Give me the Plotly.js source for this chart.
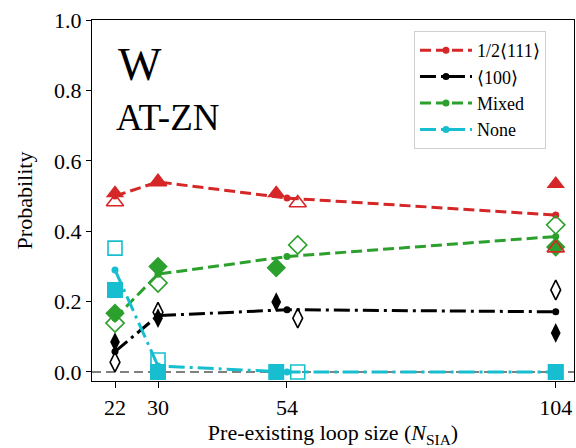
<!DOCTYPE html>
<html>
<head>
<meta charset="utf-8">
<script src="https://cdn.plot.ly/plotly-3.0.1.min.js"></script>
</head>
<body style="margin:0">
<div id="chart"></div>
<script>
// Loop sizes
const sizes = [22, 30, 54, 104];
const filledX = [22, 30, 52, 104];
const hollowX = [22, 30, 56, 104];
const tickVals = [22, 30, 54, 104];
const tickText = ['22', '30', '54', '104'];

const seriesNames = ['1/2⟨111⟩', '⟨100⟩', 'Mixed', 'None'];
const seriesColors = ['#d62728', '#000000', '#2ca02c', '#17becf'];

// average (line) values
const avg111 = [0.500, 0.540, 0.494, 0.446];
const avg100 = [0.058, 0.160, 0.177, 0.171];
const avgMixed = [0.153, 0.278, 0.328, 0.385];
const avgNone = [0.290, 0.017, 0.000, 0.000];

// filled-marker values
const fill111 = [0.508, 0.540, 0.508, 0.534];
const fill100 = [0.085, 0.153, 0.199, 0.111];
const fillMixed = [0.167, 0.300, 0.296, 0.355];
const fillNone = [0.233, 0.000, 0.000, 0.000];

// hollow-marker values
const hol111 = [0.483, 0.540, 0.480, 0.352];
const hol100 = [0.028, 0.170, 0.153, 0.233];
const holMixed = [0.139, 0.253, 0.361, 0.418];
const holNone = [0.352, 0.034, 0.000, 0.000];

const avgs = [avg111, avg100, avgMixed, avgNone];
const fills = [fill111, fill100, fillMixed, fillNone];
const hols = [hol111, hol100, holMixed, holNone];
const dashes = ['11px,5px', '16px,5px,3px,5px', '11px,5px', '16px,5px,3px,5px'];
const filledSym = ['triangle-up', 'diamond-tall', 'diamond', 'square'];
const hollowSym = ['triangle-up-open', 'diamond-tall-open', 'diamond-open', 'square-open'];
const fillSize = [16, 14, 15, 16];
const holSize = [15, 14, 14, 14];

const traces = [];
for (let i = 0; i < 4; i++) {
  traces.push({
    x: sizes, y: avgs[i], mode: 'lines+markers', name: seriesNames[i],
    line: {color: seriesColors[i], width: 3, dash: dashes[i]},
    marker: {color: seriesColors[i], size: 7},
    legendgroup: 'g' + i
  });
}
for (let i = 0; i < 4; i++) {
  traces.push({
    x: filledX, y: fills[i], mode: 'markers', showlegend: false,
    marker: {symbol: filledSym[i], color: seriesColors[i], size: fillSize[i], line: {width: 0}}
  });
}
for (let i = 0; i < 4; i++) {
  traces.push({
    x: hollowX, y: hols[i], mode: 'markers', showlegend: false,
    marker: {symbol: hollowSym[i], color: seriesColors[i], size: holSize[i], line: {width: 1.6, color: seriesColors[i]}}
  });
}

const FAM = 'Liberation Serif';
const layout = {
  width: 576, height: 448,
  margin: {l: 92, r: 2, t: 20, b: 67, pad: 0},
  paper_bgcolor: '#fff', plot_bgcolor: '#fff',
  showlegend: true,
  xaxis: {
    range: [17.72, 107.4], tickvals: tickVals, ticktext: tickText,
    showgrid: false, zeroline: false, showline: true, mirror: true,
    linecolor: '#000', linewidth: 1.3, ticks: 'outside', ticklen: 6, tickwidth: 1.3, tickcolor: '#000',
    tickfont: {family: FAM, size: 22, color: '#000'},
    title: {text: 'Pre-existing loop size (<i>N</i><sub>SIA</sub>)', font: {family: FAM, size: 22, color: '#000'}, standoff: 10}
  },
  yaxis: {
    range: [-0.0256, 1.0], tickvals: [0, 0.2, 0.4, 0.6, 0.8, 1.0],
    ticktext: ['0.0', '0.2', '0.4', '0.6', '0.8', '1.0'],
    showgrid: false, zeroline: false, showline: true, mirror: true,
    linecolor: '#000', linewidth: 1.3, ticks: 'outside', ticklen: 5, tickwidth: 1.3, tickcolor: '#000',
    tickfont: {family: FAM, size: 22, color: '#000'},
    title: {text: 'Probability', font: {family: FAM, size: 22, color: '#000'}, standoff: 15}
  },
  legend: {
    x: 0.668, y: 0.9695, xanchor: 'left', yanchor: 'top',
    bgcolor: '#ffffff', bordercolor: '#d0d0d0', borderwidth: 1,
    font: {family: FAM, size: 18, color: '#000'}, itemwidth: 52, tracegroupgap: 12,
    traceorder: 'normal'
  },
  shapes: [{
    type: 'line', xref: 'paper', x0: 0, x1: 1, yref: 'y', y0: 0, y1: 0,
    line: {color: '#808080', width: 2, dash: '9px,5px'}, layer: 'below'
  }],
  annotations: [
    {text: 'W', xref: 'paper', yref: 'paper', x: (116 - 92) / 482, y: (381 - 37) / 361,
     xanchor: 'left', yanchor: 'top', showarrow: false, font: {family: FAM, size: 46, color: '#000'}},
    {text: 'AT-ZN', xref: 'paper', yref: 'paper', x: (114 - 92) / 482, y: (381 - 95) / 361,
     xanchor: 'left', yanchor: 'top', showarrow: false, font: {family: FAM, size: 37, color: '#000'}}
  ]
};

Plotly.newPlot('chart', traces, layout, {displayModeBar: false});
</script>
</body>
</html>
